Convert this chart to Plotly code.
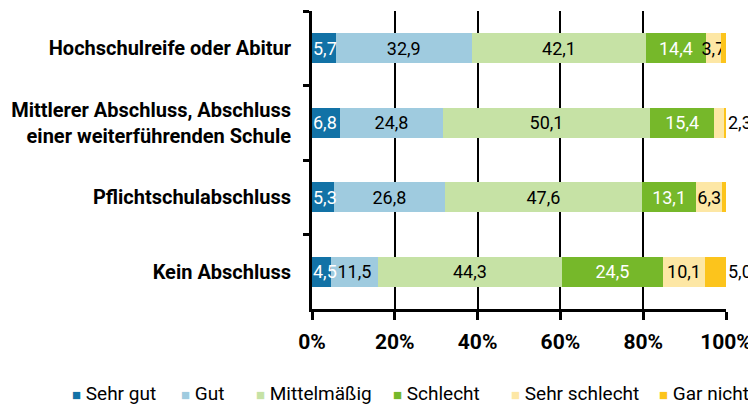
import plotly.graph_objects as go

FONT = "Roboto"

categories = [
    "Hochschulreife oder Abitur",
    "Mittlerer Abschluss, Abschluss<br>einer weiterführenden Schule",
    "Pflichtschulabschluss",
    "Kein Abschluss",
]
series_names = ["Sehr gut", "Gut", "Mittelmäßig", "Schlecht", "Sehr schlecht", "Gar nicht"]
sehr_gut = [5.7, 6.8, 5.3, 4.5]
gut = [32.9, 24.8, 26.8, 11.5]
mittel = [42.1, 50.1, 47.6, 44.3]
schlecht = [14.4, 15.4, 13.1, 24.5]
sehr_schlecht = [3.7, 2.3, 6.3, 10.1]
gar_nicht = [1.2, 0.6, 0.9, 5.0]

series_values = [sehr_gut, gut, mittel, schlecht, sehr_schlecht, gar_nicht]
colors = ["#1272a6", "#9fcbdf", "#c6e2a5", "#76b82a", "#fde7a5", "#fcc41c"]
text_colors = ["white", "black", "black", "white", "black", "black"]

# labels drawn as annotations so they can spill over neighbouring segments:
# first segment labels start at the axis, a few end labels sit right of the bar
outside_labels = [(4, 1), (5, 3)]
hidden_labels = [(5, 0), (5, 1), (5, 2)]
LABEL_SIZE = 18


def fmt(v):
    return f"{v:.1f}".replace(".", ",")


fig = go.Figure()
for s, (name, vals) in enumerate(zip(series_names, series_values)):
    texts = []
    for r, v in enumerate(vals):
        if s == 0 or (s, r) in outside_labels or (s, r) in hidden_labels:
            texts.append("")
        else:
            texts.append(fmt(v))
    fig.add_trace(go.Bar(
        y=categories, x=vals, name=name, orientation="h",
        marker=dict(color=colors[s], line=dict(width=0)),
        text=texts, textposition="inside", insidetextanchor="middle",
        textangle=0, constraintext="none",
        textfont=dict(family=FONT, size=LABEL_SIZE, color=text_colors[s]),
        showlegend=False, hoverinfo="name+x",
    ))

for r, v in enumerate(sehr_gut):
    fig.add_annotation(
        x=0, y=categories[r], xref="x", yref="y", text=fmt(v),
        xanchor="left", showarrow=False, xshift=-1,
        font=dict(family=FONT, size=LABEL_SIZE, color=text_colors[0]),
    )

for s, r in outside_labels:
    total = sum(v[r] for v in series_values)
    fig.add_annotation(
        x=total, y=categories[r], xref="x", yref="y", text=fmt(series_values[s][r]),
        xanchor="left", showarrow=False, xshift=0,
        font=dict(family=FONT, size=LABEL_SIZE, color="black"),
    )

# legend as text: coloured square + name, laid out like the original
# (page body has an 8px margin, so figure coords are screen coords - 8)
legend_x = [54, 164, 240, 379, 499, 649]
plot_left, plot_width = 298, 420
for name, col, px_x in zip(series_names, colors, legend_x):
    fig.add_annotation(
        x=(px_x - plot_left) / plot_width, y=-0.282, xref="paper", yref="paper",
        text=f"<span style='color:{col};font-size:15px'>■</span> {name}",
        xanchor="left", yanchor="middle", showarrow=False, borderpad=0,
        font=dict(family=FONT, size=19, color="black"),
    )

fig.update_layout(
    barmode="stack", bargap=0.6,
    width=756, height=406,
    margin=dict(l=298, r=38, t=3, b=105),
    plot_bgcolor="white", paper_bgcolor="white",
    font=dict(family=FONT, size=19, color="black"),
    showlegend=False,
)
fig.update_xaxes(
    range=[0, 100], dtick=20, ticksuffix="%",
    showgrid=True, gridcolor="black", gridwidth=1.5,
    showline=True, linecolor="black", linewidth=3,
    ticks="outside", ticklen=8, tickwidth=3, tickcolor="black",
    tickfont=dict(family=FONT, size=21, weight="bold"),
    ticklabelstandoff=4, zeroline=False,
)
fig.update_yaxes(
    autorange="reversed", showgrid=False,
    showline=True, linecolor="black", linewidth=3,
    ticks="outside", tickson="boundaries", ticklen=6, tickwidth=3, tickcolor="black",
    tickfont=dict(family=FONT, size=20, weight="bold"),
    ticklabelstandoff=14,
)

fig.write_html("out.html")
